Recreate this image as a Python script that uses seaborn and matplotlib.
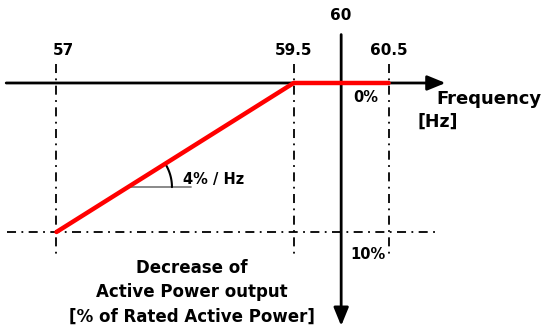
import numpy as np
import pandas as pd
import matplotlib
matplotlib.use("Agg")
import matplotlib.pyplot as plt
import seaborn as sns

# Frequency [Hz] and decrease of active power [%]
freq = [57.0, 59.5, 60.5]
decrease = [10.0, 0.0, 0.0]
guide_freqs = [57.0, 59.5, 60.5]
guide_labels = ["57", "59.5", "60.5"]
nominal = 60.0
max_decrease = 10.0
slope_label = "4% / Hz"

sns.set_style("white")
plt.rcParams['font.family'] = ['DejaVu Sans']
plt.rcParams['text.color'] = 'black'

fig = plt.figure(figsize=(5.5, 3.33), dpi=100)
ax = fig.add_axes([0, 0, 1, 1])
ax.set_xlim(56.4046, 62.2008)
ax.set_ylim(16.78, -5.57)
ax.axis("off")

# dash-dot guide lines
dashdot = (0, (5, 3, 1, 3))
for f in guide_freqs:
    ax.plot([f, f], [-1.3, 11.6], color="black", lw=1.3, linestyle=dashdot)
ax.plot([56.48, 61.04], [max_decrease, max_decrease], color="black", lw=1.3, linestyle=dashdot)

# axes with arrows
arrow = dict(arrowstyle="-|>,head_length=1.1,head_width=0.45", color="black", lw=2, shrinkA=0, shrinkB=0)
ax.annotate("", xy=(61.1, 0), xytext=(56.47, 0), arrowprops=arrow)
ax.annotate("", xy=(nominal, 16.3), xytext=(nominal, -3.25), arrowprops=arrow)

# characteristic
df = pd.DataFrame({"freq": freq, "decrease": decrease})
sns.lineplot(data=df, x="freq", y="decrease", color="red", lw=3.2, sort=False, ax=ax, zorder=5)

# slope marker
pxx, pxy = 94.89, 14.9
cx = 57.753
cy = 10 - 4 * (cx - 57)
ax.plot([cx, 58.42], [cy, cy], color="#808080", lw=1.3)
r = 44
ang = np.arctan((4 * pxy) / pxx)
t = np.linspace(0, ang, 40)
ax.plot(cx + r / pxx * np.cos(t), cy - r / pxy * np.sin(t), color="black", lw=1.5)
ax.text(58.33, 6.5, slope_label, fontsize=10.5, fontweight="bold", ha="left", va="center")

# labels
for f, lab in zip(guide_freqs, guide_labels):
    ax.text(f + (0.07 if f == 57 else 0), -2.15, lab, fontsize=11, fontweight="bold", ha="center", va="center")
ax.text(nominal, -4.55, "60", fontsize=11, fontweight="bold", ha="center", va="center")
ax.text(60.26, 1.0, "0%", fontsize=10.5, fontweight="bold", ha="center", va="center")
ax.text(60.28, 11.5, "10%", fontsize=10.5, fontweight="bold", ha="center", va="center")
ax.text(61.0, 1.1, "Frequency", fontsize=13, fontweight="bold", ha="left", va="center")
ax.text(60.8, 2.6, "[Hz]", fontsize=12.5, fontweight="bold", ha="left", va="center")
ax.text(58.43, 14.05, "Decrease of\nActive Power output\n[% of Rated Active Power]",
        fontsize=12, fontweight="bold", ha="center", va="center", linespacing=1.45)

fig.savefig("out.png", dpi=100)
